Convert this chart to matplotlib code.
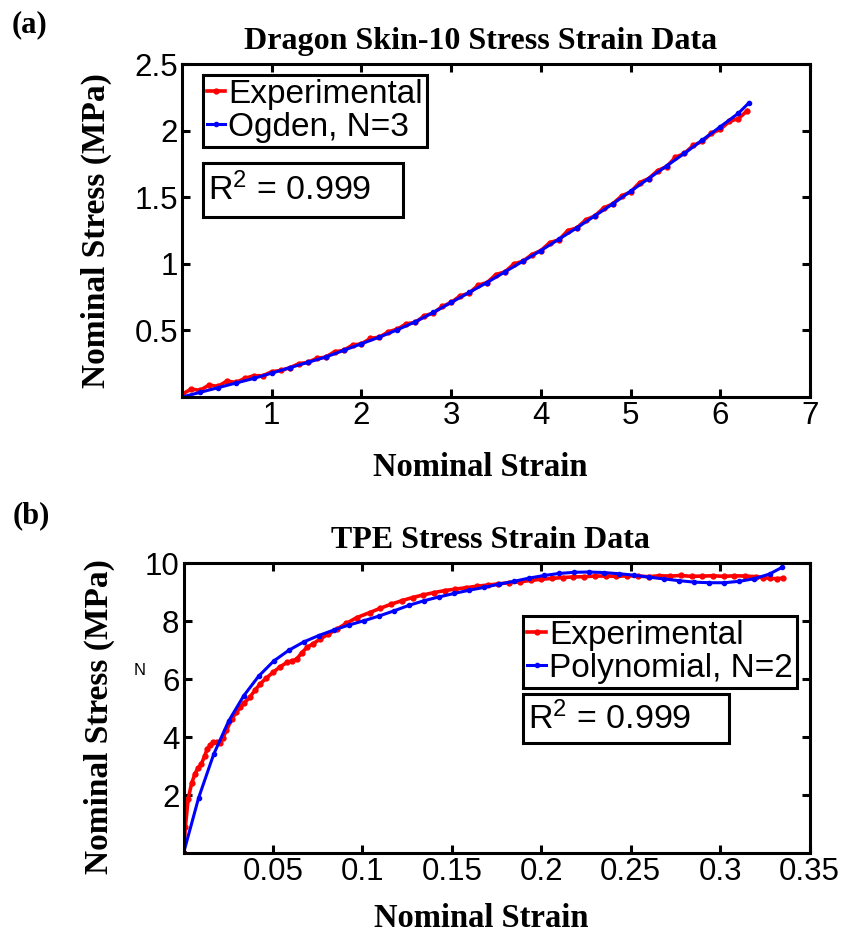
"""Stress-strain fits for Dragon Skin-10 (Ogden) and TPE (polynomial)."""

import matplotlib

matplotlib.use("Agg")
import matplotlib.pyplot as plt
from matplotlib.patches import Rectangle

plt.rcParams["font.family"] = ["Liberation Sans", "DejaVu Sans"]
plt.rcParams["mathtext.default"] = "regular"

SERIF = ["Liberation Serif", "DejaVu Serif"]
RED = "#ff0000"
BLUE = "#0000ff"

# ---- (a) Dragon Skin-10 ----
ds_exp_strain = [
    0.0, 0.1, 0.2, 0.3, 0.4, 0.5, 0.6, 0.7, 0.8, 0.9,
    1.0, 1.1, 1.2, 1.3, 1.4, 1.5, 1.6, 1.7, 1.8, 1.9,
    2.0, 2.1, 2.2, 2.3, 2.4, 2.5, 2.6, 2.7, 2.8, 2.9,
    3.0, 3.1, 3.2, 3.3, 3.4, 3.5, 3.6, 3.7, 3.8, 3.9,
    4.0, 4.1, 4.2, 4.3, 4.4, 4.5, 4.6, 4.7, 4.8, 4.9,
    5.0, 5.1, 5.2, 5.3, 5.4, 5.5, 5.6, 5.7, 5.8, 5.9,
    6.0, 6.1, 6.2, 6.3,
]
ds_exp_stress = [
    0.02, 0.06, 0.05, 0.09, 0.08, 0.12, 0.11, 0.14, 0.16, 0.16,
    0.19, 0.20, 0.22, 0.25, 0.26, 0.29, 0.30, 0.34, 0.35, 0.39,
    0.40, 0.44, 0.45, 0.49, 0.51, 0.55, 0.56, 0.61, 0.63, 0.68,
    0.71, 0.76, 0.78, 0.84, 0.86, 0.92, 0.94, 1.00, 1.02, 1.07,
    1.10, 1.16, 1.18, 1.25, 1.27, 1.33, 1.36, 1.42, 1.45, 1.51,
    1.54, 1.61, 1.64, 1.70, 1.73, 1.80, 1.83, 1.89, 1.92, 1.98,
    2.01, 2.07, 2.09, 2.15,
]
ds_fit_strain = [
    0.0, 0.2, 0.4, 0.6, 0.8, 1.0, 1.2, 1.4, 1.6, 1.8,
    2.0, 2.2, 2.4, 2.6, 2.8, 3.0, 3.2, 3.4, 3.6, 3.8,
    4.0, 4.2, 4.4, 4.6, 4.8, 5.0, 5.2, 5.4, 5.6, 5.8,
    6.0, 6.2, 6.32,
]
ds_fit_stress = [
    0.0, 0.035, 0.07, 0.105, 0.14, 0.18, 0.22, 0.26, 0.30, 0.35,
    0.40, 0.45, 0.505, 0.565, 0.635, 0.71, 0.785, 0.86, 0.94, 1.02,
    1.10, 1.185, 1.27, 1.36, 1.45, 1.545, 1.64, 1.735, 1.83, 1.93,
    2.03, 2.13, 2.21,
]

# ---- (b) TPE ----
tpe_exp_strain = [
    0.0, 0.001, 0.0026, 0.0045, 0.0064, 0.008, 0.010, 0.0118, 0.0133, 0.015,
    0.0167, 0.0185, 0.0204, 0.022, 0.024, 0.027, 0.0295, 0.0316, 0.034, 0.037,
    0.040, 0.0428, 0.046, 0.050, 0.054, 0.0577, 0.0605, 0.0633, 0.066, 0.069,
    0.0725, 0.0764, 0.081, 0.0857, 0.091, 0.0969, 0.104, 0.110, 0.116, 0.122,
    0.128, 0.134, 0.140, 0.146, 0.152, 0.158, 0.164, 0.170, 0.176, 0.182,
    0.188, 0.194, 0.200, 0.206, 0.212, 0.218, 0.224, 0.230, 0.236, 0.242,
    0.248, 0.254, 0.260, 0.266, 0.272, 0.278, 0.284, 0.290, 0.296, 0.302,
    0.308, 0.314, 0.320, 0.324, 0.328, 0.332, 0.335,
]
tpe_exp_stress = [
    0.0, 0.9, 1.88, 2.40, 2.74, 2.92, 3.08, 3.35, 3.60, 3.72,
    3.82, 3.84, 3.79, 3.98, 4.23, 4.63, 4.85, 5.03, 5.18, 5.37,
    5.62, 5.83, 6.02, 6.23, 6.42, 6.57, 6.62, 6.69, 6.90, 7.09,
    7.22, 7.38, 7.55, 7.72, 7.92, 8.12, 8.29, 8.44, 8.58, 8.70,
    8.81, 8.90, 8.98, 9.05, 9.10, 9.15, 9.20, 9.24, 9.28, 9.32,
    9.35, 9.40, 9.44, 9.47, 9.50, 9.52, 9.53, 9.55, 9.55, 9.54,
    9.56, 9.55, 9.53, 9.56, 9.55, 9.57, 9.54, 9.55, 9.56, 9.54,
    9.56, 9.55, 9.53, 9.50, 9.47, 9.46, 9.48,
]
tpe_fit_strain = [
    0.0, 0.0084, 0.0168, 0.0252, 0.0336, 0.042, 0.0504, 0.0588, 0.0672, 0.0756,
    0.084, 0.0924, 0.1008, 0.1092, 0.1176, 0.126, 0.1344, 0.1428, 0.1512, 0.1596,
    0.168, 0.1764, 0.1848, 0.1932, 0.2016, 0.21, 0.2184, 0.2268, 0.2352, 0.2436,
    0.252, 0.2604, 0.2688, 0.2772, 0.2856, 0.294, 0.3024, 0.3108, 0.3192, 0.3276,
    0.3346,
]
tpe_fit_stress = [
    0.0, 1.90, 3.40, 4.55, 5.42, 6.10, 6.62, 6.99, 7.28, 7.50,
    7.69, 7.86, 8.01, 8.17, 8.35, 8.54, 8.70, 8.83, 8.95, 9.06,
    9.16, 9.27, 9.37, 9.48, 9.57, 9.64, 9.68, 9.69, 9.67, 9.63,
    9.58, 9.51, 9.45, 9.39, 9.34, 9.32, 9.32, 9.37, 9.46, 9.62,
    9.85,
]

ds_xticks = [1, 2, 3, 4, 5, 6, 7]
ds_yticks = [0.5, 1, 1.5, 2, 2.5]
tpe_xticks = [0.05, 0.1, 0.15, 0.2, 0.25, 0.3, 0.35]
tpe_yticks = [2, 4, 6, 8, 10]


def style_axes(ax):
    for sp in ax.spines.values():
        sp.set_linewidth(2.2)
    ax.tick_params(direction="in", length=6, width=2.2, labelsize=22.5,
                   top=True, right=True, pad=3)


def draw_panel(ax, exp_x, exp_y, fit_x, fit_y, fit_label, title, title_x,
               leg_anchor, r2_box):
    ax.plot(exp_x, exp_y, "-", color=RED, lw=2.6, marker=".", ms=7, label="Experimental")
    ax.plot(fit_x, fit_y, "-", color=BLUE, lw=2.2, marker=".", ms=6, label=fit_label)
    style_axes(ax)
    ax.set_title(title, family=SERIF, fontweight="bold", fontsize=23, pad=11, x=title_x)
    ax.set_xlabel("Nominal Strain", family=SERIF, fontweight="bold", fontsize=23.5)
    ax.set_ylabel("Nominal Stress (MPa)", family=SERIF, fontweight="bold", fontsize=24)
    leg = ax.legend(loc="upper left", bbox_to_anchor=leg_anchor, borderaxespad=0,
                    fontsize=24, handlelength=0.55, handletextpad=0.1, numpoints=1,
                    borderpad=0.12, labelspacing=0.05, fancybox=False,
                    edgecolor="black", framealpha=1)
    leg.get_frame().set_linewidth(2.2)
    x0, y0, x1, y1 = r2_box
    ax.add_patch(Rectangle((x0, y0), x1 - x0, y1 - y0, transform=ax.transAxes,
                           fc="white", ec="black", lw=2.2, zorder=5))
    ax.text(x0 + 0.008, (y0 + y1) / 2, "R$^{2}$ = 0.999", transform=ax.transAxes,
            fontsize=24.5, va="center", ha="left", zorder=6)


fig = plt.figure(figsize=(8.44, 9.34), dpi=100)

ax_a = fig.add_axes([0.2157, 0.5749, 0.7441, 0.3565])
draw_panel(ax_a, ds_exp_strain, ds_exp_stress, ds_fit_strain, ds_fit_stress,
           "Ogden, N=3", "Dragon Skin-10 Stress Strain Data", 0.475,
           (0.033, 0.967), (0.033, 0.541, 0.352, 0.703))
ax_a.set_xlim(0, 7)
ax_a.set_ylim(0, 2.5)
ax_a.set_xticks(ds_xticks)
ax_a.set_xticklabels([f"{v:g}" for v in ds_xticks])
ax_a.set_yticks(ds_yticks)
ax_a.set_yticklabels([f"{v:g}" for v in ds_yticks])
ax_a.xaxis.set_label_coords(0.475, -0.165)
ax_a.yaxis.set_label_coords(-0.111, 0.5)

ax_b = fig.add_axes([0.2175, 0.0867, 0.7417, 0.3105])
draw_panel(ax_b, tpe_exp_strain, tpe_exp_stress, tpe_fit_strain, tpe_fit_stress,
           "Polynomial, N=2", "TPE Stress Strain Data", 0.49,
           (0.543, 0.817), (0.543, 0.379, 0.871, 0.548))
ax_b.set_xlim(0, 0.35)
ax_b.set_ylim(0, 10)
ax_b.set_xticks(tpe_xticks)
ax_b.set_xticklabels([f"{v:g}" for v in tpe_xticks])
ax_b.set_yticks(tpe_yticks)
ax_b.set_yticklabels([f"{v:g}" for v in tpe_yticks])
ax_b.xaxis.set_label_coords(0.475, -0.172)
ax_b.yaxis.set_label_coords(-0.109, 0.469)
# stray label left over in the original figure
ax_b.text(-0.07, 0.63, "N", transform=ax_b.transAxes, fontsize=12,
          ha="center", va="center")

fig.text(0.035, 0.974, "(a)", family=SERIF, fontweight="bold", fontsize=22, ha="center", va="center")
fig.text(0.037, 0.4475, "(b)", family=SERIF, fontweight="bold", fontsize=22, ha="center", va="center")

fig.savefig("out.png", dpi=100)
